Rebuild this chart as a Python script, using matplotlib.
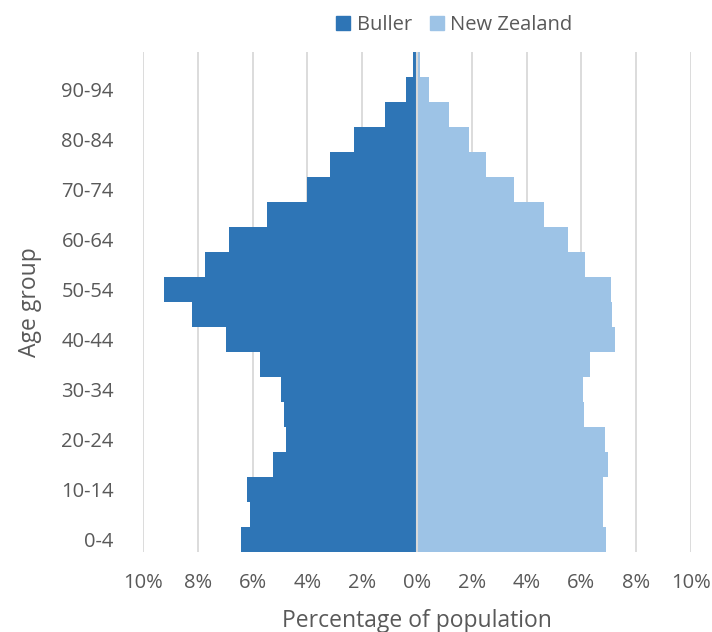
import numpy as np
import matplotlib
matplotlib.use("Agg")
import matplotlib.pyplot as plt
from matplotlib.patches import Patch

# ---- data (percent of population) ----
age_groups = ["0-4", "5-9", "10-14", "15-19", "20-24", "25-29", "30-34", "35-39",
              "40-44", "45-49", "50-54", "55-59", "60-64", "65-69", "70-74",
              "75-79", "80-84", "85-89", "90-94", "95+"]
buller = [6.42, 6.08, 6.22, 5.24, 4.78, 4.87, 4.98, 5.72, 6.97, 8.20,
          9.22, 7.74, 6.87, 5.47, 4.00, 3.19, 2.30, 1.16, 0.41, 0.13]
new_zealand = [6.90, 6.78, 6.78, 6.98, 6.86, 6.09, 6.07, 6.31, 7.21, 7.13,
               7.09, 6.14, 5.51, 4.63, 3.55, 2.51, 1.91, 1.16, 0.45, 0.11]
x_ticks = [-10, -8, -6, -4, -2, 0, 2, 4, 6, 8, 10]

BULLER_C = "#2E75B6"
NZ_C = "#9DC3E6"
TXT = "#595959"
GRID = "#D9D9D9"

plt.rcParams['font.family'] = ['Open Sans', 'DejaVu Sans']

fig = plt.figure(figsize=(7.12, 6.32), dpi=100)
ax = fig.add_axes([0.2008, 0.1266, 0.7697, 0.7911])

y = np.arange(len(age_groups))
ax.barh(y, -np.array(buller), height=1.0, color=BULLER_C, linewidth=0, zorder=2)
ax.barh(y, new_zealand, height=1.0, color=NZ_C, linewidth=0, zorder=2)

ax.axvline(0, color=GRID, lw=1.5, zorder=3)

ax.set_xlim(-10, 10)
ax.set_ylim(-0.5, len(age_groups) - 0.5)
ax.set_xticks(x_ticks)
ax.set_xticklabels([f"{abs(t)}%" for t in x_ticks])
ax.set_yticks(y[::2])
ax.set_yticklabels(age_groups[::2])
ax.tick_params(length=0, labelsize=14.5, labelcolor=TXT)
ax.tick_params(axis="x", pad=15)
ax.tick_params(axis="y", pad=21)

ax.grid(axis="x", color=GRID, lw=1.3, zorder=0)
ax.set_axisbelow(True)
for s in ax.spines.values():
    s.set_visible(False)

ax.set_xlabel("Percentage of population", fontsize=16.5, color=TXT, labelpad=12)
ax.set_ylabel("Age group", fontsize=16.5, color=TXT, labelpad=14)

handles = [Patch(color=BULLER_C, label="Buller"), Patch(color=NZ_C, label="New Zealand")]
fig.legend(handles=handles, loc="center", bbox_to_anchor=(0.638, 0.96), ncol=2,
           frameon=False, fontsize=14.5, labelcolor=TXT, handlelength=0.7,
           handleheight=0.7, handletextpad=0.3, columnspacing=0.9)

fig.savefig("out.png", dpi=100)
